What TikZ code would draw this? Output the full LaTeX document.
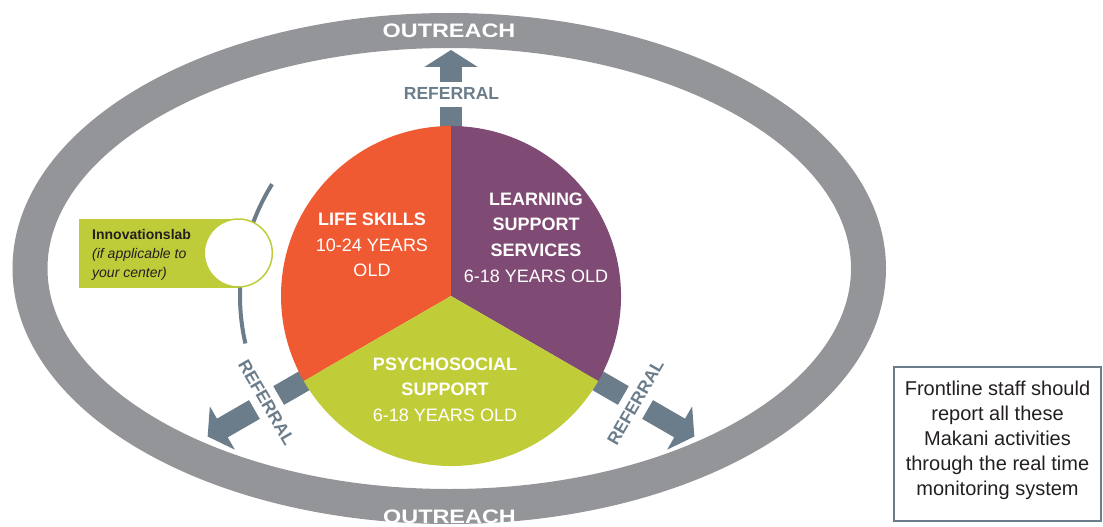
\documentclass[tikz,border=0pt]{standalone}
\usepackage{fontspec}
\setmainfont{Liberation Sans}
\newfontfamily\widefont[FakeStretch=1.2]{Liberation Sans}
\usetikzlibrary{calc}
\definecolor{ringgrey}{HTML}{939598}
\definecolor{slate}{HTML}{6B7D8B}
\definecolor{lsorange}{HTML}{F05A32}
\definecolor{lspurple}{HTML}{7F4A73}
\definecolor{psgreen}{HTML}{C1CD38}
\definecolor{labgreen}{HTML}{BFCC3A}
\definecolor{darktext}{HTML}{231F20}
\begin{document}
\begin{tikzpicture}[x=1pt,y=1pt,
  lbl/.style={text=white, font=\fontsize{18}{22}\selectfont, anchor=base, inner sep=0},
  lblb/.style={text=white, font=\fontsize{18}{22}\selectfont\bfseries, anchor=base, inner sep=0},
  reflabel/.style={text=slate, font=\fontsize{17.5}{20}\selectfont\bfseries, inner sep=0},
  outreach/.style={text=white, font=\widefont\fontsize{19.5}{22}\selectfont\bfseries, inner sep=0},
  arrowfill/.style={fill=slate},
  labtext/.style={text=darktext, anchor=base west, inner sep=0}]
\useasboundingbox (0,0) rectangle (1103,-527);
% outer ring
\coordinate (E) at (449.25,-268.5);
\draw[ringgrey, line width=35] (E) ellipse [x radius=419.25, y radius=238];
\node[outreach] (out1) at (449,-30.3) {OUTREACH};
\node[outreach] (out2) at (449.5,-516.5) {OUTREACH};
% centre
\coordinate (C) at (451,-296);
% thin arc near innovations lab
\draw[slate, line width=4] ([shift={(148:211)}]C) arc[start angle=148, end angle=193, radius=211];
% referral arrows
\begin{scope}[shift={(C)}, rotate=90]
  \fill[arrowfill] (150,-10.8) rectangle (189,10.8);
  \fill[arrowfill] (214,-10.8) -- (229,-10.8) -- (229,-26.7) -- (246,0) -- (229,26.7) -- (229,10.8) -- (214,10.8) -- cycle;
\end{scope}
\foreach \a in {210,330}{
\begin{scope}[shift={(C)}, rotate=\a]
  \fill[arrowfill] (150,-10.8) rectangle (199,10.8);
  \fill[arrowfill] (227,-10.8) -- (264,-10.8) -- (264,-25) -- (281,0) -- (264,25) -- (264,10.8) -- (227,10.8) -- cycle;
\end{scope}}
\node[reflabel] (ref1) at (451.5,-93.3) {REFERRAL};
\node[reflabel, rotate=-60] (ref2) at ([shift={(210:213)}]C) {REFERRAL};
\node[reflabel, rotate=60] (ref3) at ([shift={(330:213)}]C) {REFERRAL};
% sectors
\fill[lsorange] (C) -- ([shift={(90:170)}]C) arc[start angle=90, end angle=210, radius=170] -- cycle;
\fill[lspurple] (C) -- ([shift={(-30:170)}]C) arc[start angle=-30, end angle=90, radius=170] -- cycle;
\fill[psgreen] (C) -- ([shift={(210:170)}]C) arc[start angle=210, end angle=330, radius=170] -- cycle;
% sector texts
\node[lblb] (ls1) at (372,-225.5) {LIFE SKILLS};
\node[lbl]  (ls2) at (372,-251.5) {10-24 YEARS};
\node[lbl]  (ls3) at (372,-276.5) {OLD};
\node[lblb] (lss1) at (536,-205) {LEARNING};
\node[lblb] (lss2) at (536,-230.5) {SUPPORT};
\node[lblb] (lss3) at (536,-256.5) {SERVICES};
\node[lbl]  (lss4) at (536,-282.3) {6-18 YEARS OLD};
\node[lblb] (ps1) at (445,-370) {PSYCHOSOCIAL};
\node[lblb] (ps2) at (445,-395.5) {SUPPORT};
\node[lbl]  (ps3) at (445,-421) {6-18 YEARS OLD};
% innovations lab
\node[fill=labgreen, minimum width=159, minimum height=68.3, inner sep=0, anchor=north west] (labbox) at (79,-219) {};
\node[circle, fill=white, draw=labgreen, line width=1.5, minimum size=68, inner sep=0] (lab) at (238.3,-253) {};
\node[labtext, font=\fontsize{14}{16}\selectfont\bfseries] (lab1) at (92,-239) {Innovationslab};
\node[labtext, font=\fontsize{14}{16}\selectfont\itshape] (lab2) at (92,-258.5) {(if applicable to};
\node[labtext, font=\fontsize{14}{16}\selectfont\itshape] (lab3) at (92,-277) {your center)};
% note box
\node[draw=slate, line width=2.5, minimum width=207, minimum height=154, inner sep=0] (frame) at (997.5,-444) {};
\node[anchor=north, align=center, font=\fontsize{20}{25}\selectfont, text=darktext, inner sep=0] (note) at (997.5,-381) {Frontline staff should\\report all these\\Makani activities\\through the real time\\monitoring system};
\end{tikzpicture}
\end{document}
